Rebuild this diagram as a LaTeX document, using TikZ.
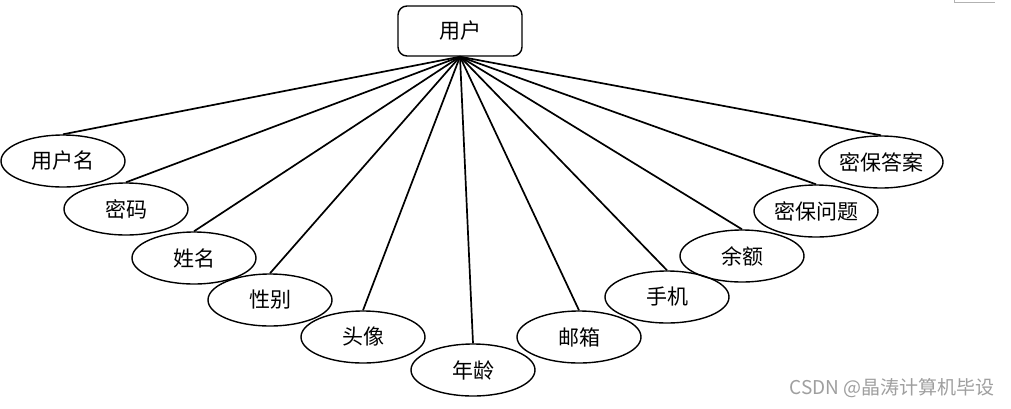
\documentclass[tikz,border=0pt]{standalone}
\usepackage{fontspec}
\usetikzlibrary{shapes.geometric}
\setmainfont{Noto Sans CJK SC}
\newfontfamily\wmfont{Noto Sans CJK SC}
\begin{document}
\begin{tikzpicture}[x=1pt,y=-1pt,
  attr/.style={draw=black,line width=1.4pt,ellipse,minimum width=124pt,minimum height=52pt,inner sep=0pt,font=\fontsize{21}{24}\selectfont},
  ent/.style={draw=black,line width=1.4pt,rounded corners=9pt,minimum width=124pt,minimum height=50pt,inner sep=0pt,font=\fontsize{21}{24}\selectfont},
  link/.style={line width=1.7pt,black}]
\useasboundingbox (0,0) rectangle (1011,408);
\fill[white] (0,0) rectangle (1011,408);
\node[ent] (user) at (460,31) {用户};
\node[attr] (a1) at (63,161) {用户名};
\node[attr] (a2) at (126,209) {密码};
\node[attr] (a3) at (194,258) {姓名};
\node[attr] (a4) at (270,300) {性别};
\node[attr] (a5) at (363,337) {头像};
\node[attr] (a6) at (473,370) {年龄};
\node[attr] (a7) at (579,337) {邮箱};
\node[attr] (a8) at (667,297) {手机};
\node[attr] (a9) at (742,256) {余额};
\node[attr] (a10) at (816,211) {密保问题};
\node[attr] (a11) at (881,162) {密保答案};
\foreach \i in {1,...,11} \draw[link] (user.south) -- (a\i.north);
\node[anchor=east,text=gray!75,font=\wmfont\fontsize{19}{21}\selectfont,inner sep=0pt] (wm) at (995,388) {CSDN @晶涛计算机毕设};
\draw[gray!60,line width=0.8pt] (954,0) -- (954,2.5) -- (995,2.5);
\end{tikzpicture}
\end{document}
